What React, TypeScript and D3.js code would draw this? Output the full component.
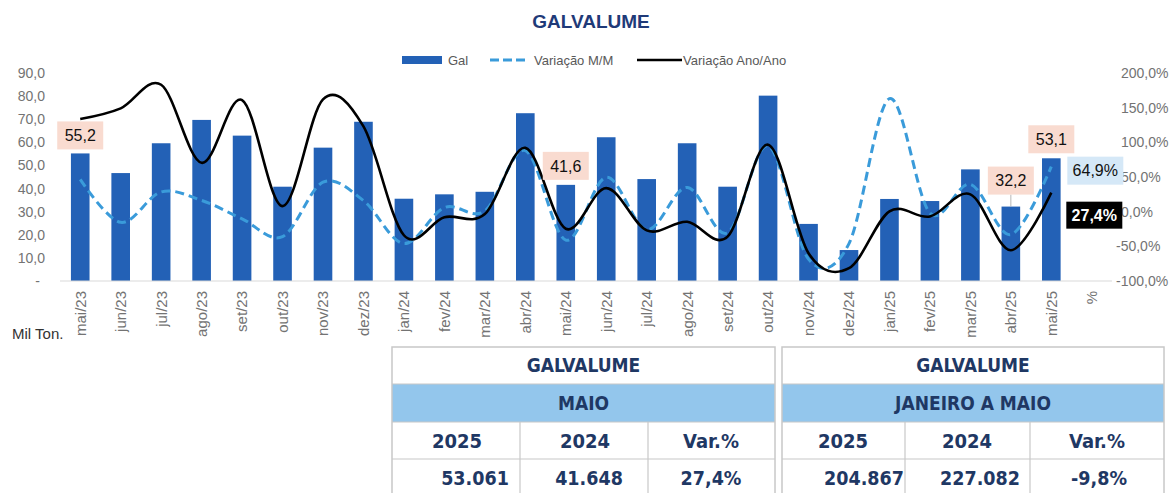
import React from 'react';
import * as d3 from 'd3';

const months = ['mai/23','jun/23','jul/23','ago/23','set/23','out/23','nov/23','dez/23','jan/24','fev/24','mar/24','abr/24','mai/24','jun/24','jul/24','ago/24','set/24','out/24','nov/24','dez/24','jan/25','fev/25','mar/25','abr/25','mai/25'];
const xLabels = [...months, '%'];
const galValues = [55.2, 46.7, 59.6, 69.7, 62.9, 40.8, 57.7, 68.9, 35.6, 37.5, 38.6, 72.6, 41.6, 62.2, 44.1, 59.6, 40.8, 80.2, 24.7, 13.4, 35.5, 34.6, 48.3, 32.2, 53.1];
const mmValues = [46.6, -15.4, 28.5, 16.2, -10.3, -36, 42.5, 16, -46, 5.8, 1, 88, -41, 49.5, -26, 35, -30.5, 95, -68.5, -46, 163, -2, 39.5, -33, 64.9];
const yyValues = [133.6, 149, 183, 70.5, 161, 8, 162, 123, -34, -8, -3.5, 92, -24.6, 34, -27, -14.5, -36, 96.6, -60, -81.5, 0.5, -7, 25, -55.6, 27.4];
const leftTicks = [0, 10, 20, 30, 40, 50, 60, 70, 80, 90];
const rightTicks = [-100, -50, 0, 50, 100, 150, 200];
const barLabels = [
  { idx: 0, text: '55,2', gap: 4 },
  { idx: 12, text: '41,6', gap: 5 },
  { idx: 23, text: '32,2', gap: 12 },
  { idx: 24, text: '53,1', gap: 5 },
];
const tableLeft = { title: 'GALVALUME', period: 'MAIO', headers: ['2025', '2024', 'Var.%'], values: ['53.061', '41.648', '27,4%'] };
const tableRight = { title: 'GALVALUME', period: 'JANEIRO A MAIO', headers: ['2025', '2024', 'Var.%'], values: ['204.867', '227.082', '-9,8%'] };

const W = 1175, H = 493;
const BAR = '#2361b6';
const DASH = '#3a9bda';
const NAVY = '#1f3864';
const GRAY = '#737373';
const FONT = '"Liberation Sans", Arial, sans-serif';
const NARROW = '"Liberation Sans Narrow", "DejaVu Sans Condensed", "Liberation Sans", sans-serif';

const fmt1 = (v: number) => v.toFixed(1).replace('.', ',');

function Table({ t, x0, x1, cols, headerX, valueX }: any) {
  const top = 347, band0 = 384, band1 = 422, hdr1 = 459, bottom = 500;
  const cx = (x0 + x1) / 2;
  const line = '#c8c8c8';
  return (
    <g>
      <rect x={x0} y={band0} width={x1 - x0} height={band1 - band0} fill="#93c6ec" />
      <rect x={x0} y={top} width={x1 - x0} height={bottom - top} fill="none" stroke={line} strokeWidth={1.5} />
      <line x1={x0} x2={x1} y1={band0} y2={band0} stroke={line} strokeWidth={1.2} />
      <line x1={x0} x2={x1} y1={band1} y2={band1} stroke={line} strokeWidth={1.2} />
      <line x1={x0} x2={x1} y1={hdr1} y2={hdr1} stroke={line} strokeWidth={1.2} />
      {cols.map((c: number, i: number) => (
        <line key={i} x1={c} x2={c} y1={band1} y2={bottom} stroke={line} strokeWidth={1.2} />
      ))}
      <text x={cx} y={(top + band0) / 2} dy="0.36em" textAnchor="middle" fontFamily={NARROW} fontWeight="bold" fontSize={19} fill={NAVY}>{t.title}</text>
      <text x={cx} y={(band0 + band1) / 2} dy="0.36em" textAnchor="middle" fontFamily={NARROW} fontWeight="bold" fontSize={19} fill={NAVY}>{t.period}</text>
      {t.headers.map((h: string, i: number) => (
        <text key={h} x={headerX[i]} y={(band1 + hdr1) / 2} dy="0.36em" textAnchor="middle" fontFamily={NARROW} fontWeight="bold" fontSize={20} fill={NAVY}>{h}</text>
      ))}
      {t.values.map((v: string, i: number) => (
        <text key={v} x={valueX[i]} y={478} dy="0.36em" textAnchor="middle" fontFamily={NARROW} fontWeight="bold" fontSize={19.5} fill={NAVY}>{v}</text>
      ))}
    </g>
  );
}

export default function App() {
  const x = d3.scaleBand<string>().domain(xLabels).range([60, 1112]).paddingInner(0.54).paddingOuter(0.27);
  const yL = d3.scaleLinear().domain([0, 90]).range([281, 73]);
  const yR = d3.scaleLinear().domain([-100, 200]).range([281, 73]);
  const cxOf = (i: number) => (x(months[i]) as number) + x.bandwidth() / 2;

  const lineGen = (vals: number[]) =>
    d3.line<number>().x((_, i) => cxOf(i)).y((v) => yR(v)).curve(d3.curveCardinal.tension(0))(vals) || '';

  const last = months.length - 1;
  const lastX = cxOf(last);

  return (
    <svg width={W} height={H} style={{ position: 'absolute', left: 0, top: 0, background: '#fff' }}>
      <rect x={0} y={0} width={W} height={H} fill="#fff" />
      <text x={591} y={21} dy="0.36em" textAnchor="middle" fontFamily={FONT} fontWeight="bold" fontSize={19} fill="#1f3a78">GALVALUME</text>

      {/* legend */}
      <g fontFamily={FONT} fontSize={13} fill="#595959">
        <rect x={402} y={56} width={40} height={8} fill={BAR} />
        <text x={448} y={60} dy="0.36em">Gal</text>
        <line x1={490} x2={528} y1={60} y2={60} stroke={DASH} strokeWidth={3} strokeDasharray="9,4" />
        <text x={534} y={60} dy="0.36em">Variação M/M</text>
        <line x1={637} x2={682} y1={60} y2={60} stroke="#000" strokeWidth={2.5} />
        <text x={683} y={60} dy="0.36em">Variação Ano/Ano</text>
      </g>

      {/* left axis */}
      <g fontFamily={FONT} fontSize={14} fill={GRAY}>
        {leftTicks.map((t) => (
          <text key={t} x={t === 0 ? 40 : 45} y={yL(t)} dy="0.36em" textAnchor="end">{t === 0 ? '-' : fmt1(t)}</text>
        ))}
      </g>
      {/* right axis */}
      <g fontFamily={FONT} fontSize={14} fill={GRAY}>
        {rightTicks.map((t) => (
          <text key={t} x={t < 0 ? 1116 : 1121} y={yR(t)} dy="0.36em" textAnchor="start">{fmt1(t) + '%'}</text>
        ))}
      </g>

      {/* bars */}
      {galValues.map((v, i) => (
        <rect key={i} x={x(months[i])} y={yL(v)} width={x.bandwidth()} height={yL(0) - yL(v)} fill={BAR} />
      ))}
      <line x1={60} x2={1112} y1={yL(0)} y2={yL(0)} stroke="#d9d9d9" strokeWidth={1} />

      {/* x labels */}
      <g fontFamily={FONT} fontSize={15} fill={GRAY}>
        {xLabels.map((l) => {
          const cx = (x(l) as number) + x.bandwidth() / 2;
          return (
            <text key={l} transform={`translate(${cx},291) rotate(-90)`} dy="0.36em" textAnchor="end">{l}</text>
          );
        })}
      </g>
      <text x={12} y={334} dy="0.36em" fontFamily={FONT} fontSize={15} fill="#333">Mil Ton.</text>

      {/* lines */}
      <path d={lineGen(mmValues)} fill="none" stroke={DASH} strokeWidth={3} strokeDasharray="9,5" />
      <path d={lineGen(yyValues)} fill="none" stroke="#000" strokeWidth={2.6} />

      {/* bar labels */}
      {barLabels.map((b) => {
        const cx = cxOf(b.idx);
        const bottom = yL(galValues[b.idx]) - b.gap;
        return (
          <g key={b.idx}>
            {b.gap > 8 && <line x1={cx} x2={cx} y1={bottom} y2={yL(galValues[b.idx])} stroke="#a6a6a6" strokeWidth={0.8} />}
            <rect x={cx - 23} y={bottom - 28} width={46} height={28} fill="#f9dbd0" />
            <text x={cx} y={bottom - 14} dy="0.36em" textAnchor="middle" fontFamily={FONT} fontSize={16} fill="#111">{b.text}</text>
          </g>
        );
      })}

      {/* line end labels */}
      <g>
        <rect x={lastX + 16} y={yR(mmValues[last]) - 10} width={56} height={28} fill="#d5e8f7" />
        <text x={lastX + 44} y={yR(mmValues[last]) + 4} dy="0.36em" textAnchor="middle" fontFamily={FONT} fontSize={16} fill="#111">{fmt1(mmValues[last]) + '%'}</text>
        <rect x={lastX + 15} y={yR(yyValues[last]) + 9} width={56} height={27} fill="#000" />
        <text x={lastX + 43} y={yR(yyValues[last]) + 22.5} dy="0.36em" textAnchor="middle" fontFamily={FONT} fontSize={16} fontWeight="bold" fill="#fff">{fmt1(yyValues[last]) + '%'}</text>
      </g>

      <Table t={tableLeft} x0={392} x1={775} cols={[520, 648]} headerX={[457, 585, 711]} valueX={[475, 589, 711]} />
      <Table t={tableRight} x0={782} x1={1164} cols={[905, 1030]} headerX={[843, 967, 1097]} valueX={[864, 980, 1099]} />
    </svg>
  );
}
